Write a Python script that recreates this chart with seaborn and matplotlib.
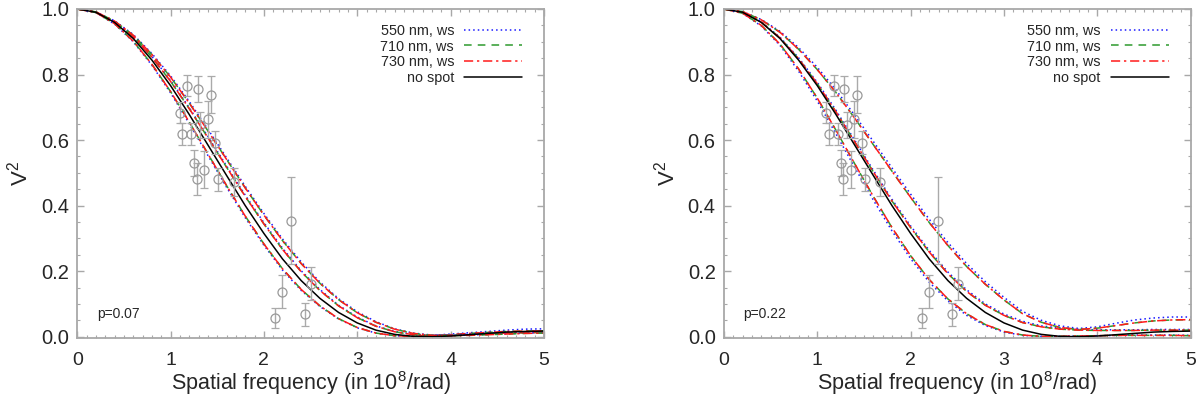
import numpy as np
import pandas as pd
import seaborn as sns
import matplotlib
matplotlib.use("Agg")
import matplotlib.pyplot as plt
from matplotlib.lines import Line2D
from matplotlib.ticker import MultipleLocator

# spatial frequency grid (in 10^8/rad)
freq = [0.0, 0.2, 0.4, 0.6, 0.8, 1.0, 1.2, 1.4, 1.6, 1.8, 2.0, 2.2, 2.4,
        2.6, 2.8, 3.0, 3.2, 3.4, 3.6, 3.8, 4.0, 4.2, 4.4, 4.6, 4.8, 5.0]

# no spot model (same in both panels)
v2_nospot = [1.000, 0.990, 0.959, 0.910, 0.844, 0.766, 0.678, 0.585, 0.492, 0.400, 0.315, 0.237, 0.171,
             0.117, 0.074, 0.042, 0.020, 0.007, 0.001, 0.000, 0.002, 0.006, 0.010, 0.014, 0.016, 0.017]

# p=0.07, three spot orientations; 710/730 nm nearly identical, 550 nm own list
p07_a = [1.000, 0.989, 0.955, 0.902, 0.831, 0.748, 0.655, 0.558, 0.461, 0.368, 0.283, 0.207, 0.144,
         0.094, 0.055, 0.028, 0.011, 0.003, 0.001, 0.003, 0.006, 0.010, 0.013, 0.016, 0.017, 0.018]
p07_a_550 = [1.000, 0.989, 0.954, 0.900, 0.828, 0.744, 0.650, 0.553, 0.456, 0.363, 0.279, 0.203, 0.141,
             0.092, 0.054, 0.027, 0.011, 0.003, 0.001, 0.004, 0.008, 0.012, 0.016, 0.020, 0.023, 0.024]
p07_b = [1.000, 0.991, 0.961, 0.915, 0.853, 0.779, 0.696, 0.607, 0.517, 0.428, 0.344, 0.266, 0.198,
         0.141, 0.094, 0.058, 0.032, 0.015, 0.006, 0.003, 0.004, 0.006, 0.009, 0.011, 0.012, 0.013]
p07_b_550 = [1.000, 0.991, 0.961, 0.916, 0.855, 0.782, 0.699, 0.611, 0.521, 0.432, 0.348, 0.270, 0.201,
             0.144, 0.096, 0.060, 0.033, 0.016, 0.007, 0.004, 0.005, 0.008, 0.011, 0.013, 0.015, 0.016]
p07_c = [1.000, 0.991, 0.963, 0.920, 0.861, 0.792, 0.713, 0.628, 0.541, 0.454, 0.371, 0.293, 0.223,
         0.163, 0.113, 0.073, 0.044, 0.023, 0.010, 0.004, 0.003, 0.004, 0.006, 0.008, 0.010, 0.011]
p07_c_550 = [1.000, 0.991, 0.964, 0.922, 0.864, 0.796, 0.718, 0.633, 0.546, 0.459, 0.376, 0.298, 0.228,
             0.167, 0.116, 0.076, 0.046, 0.024, 0.011, 0.005, 0.004, 0.005, 0.007, 0.009, 0.011, 0.012]

# p=0.22
p22_a = [1.000, 0.987, 0.950, 0.893, 0.817, 0.728, 0.630, 0.528, 0.428, 0.333, 0.247, 0.174, 0.115,
         0.070, 0.037, 0.016, 0.005, 0.001, 0.001, 0.002, 0.003, 0.004, 0.004, 0.004, 0.004, 0.003]
p22_a_550 = [1.000, 0.987, 0.948, 0.889, 0.810, 0.719, 0.619, 0.517, 0.417, 0.323, 0.238, 0.166, 0.109,
             0.065, 0.034, 0.014, 0.004, 0.001, 0.001, 0.002, 0.003, 0.004, 0.005, 0.005, 0.005, 0.004]
p22_b = [1.000, 0.990, 0.960, 0.912, 0.848, 0.772, 0.686, 0.595, 0.503, 0.414, 0.333, 0.258, 0.192,
         0.138, 0.096, 0.065, 0.043, 0.030, 0.023, 0.020, 0.019, 0.019, 0.019, 0.020, 0.020, 0.020]
p22_b_550 = [1.000, 0.990, 0.961, 0.914, 0.851, 0.776, 0.691, 0.600, 0.508, 0.419, 0.338, 0.263, 0.197,
             0.143, 0.100, 0.069, 0.047, 0.033, 0.026, 0.022, 0.021, 0.021, 0.021, 0.022, 0.022, 0.022]
p22_c = [1.000, 0.992, 0.967, 0.929, 0.877, 0.815, 0.745, 0.667, 0.586, 0.505, 0.425, 0.348, 0.278,
         0.214, 0.160, 0.112, 0.070, 0.044, 0.028, 0.022, 0.026, 0.034, 0.042, 0.048, 0.051, 0.052]
p22_c_550 = [1.000, 0.992, 0.968, 0.932, 0.882, 0.822, 0.753, 0.676, 0.596, 0.515, 0.435, 0.358, 0.287,
             0.223, 0.168, 0.120, 0.077, 0.050, 0.033, 0.025, 0.030, 0.041, 0.051, 0.057, 0.060, 0.060]

# observed squared visibilities
obs_freq = [1.096, 1.125, 1.178, 1.222, 1.255, 1.289, 1.280, 1.320, 1.363, 1.396,
            1.430, 1.474, 1.510, 1.676, 2.120, 2.196, 2.295, 2.443, 2.510]
obs_v2 = [0.684, 0.619, 0.766, 0.619, 0.530, 0.757, 0.481, 0.646, 0.510, 0.663,
          0.738, 0.592, 0.481, 0.472, 0.056, 0.137, 0.354, 0.068, 0.162]
obs_err = [0.033, 0.033, 0.032, 0.033, 0.040, 0.040, 0.048, 0.040, 0.056, 0.056,
           0.056, 0.035, 0.035, 0.042, 0.030, 0.050, 0.133, 0.034, 0.050]

panels = [
    ("p=0.07", [(p07_a, p07_a_550), (p07_b, p07_b_550), (p07_c, p07_c_550)]),
    ("p=0.22", [(p22_a, p22_a_550), (p22_b, p22_b_550), (p22_c, p22_c_550)]),
]

sns.set_style("ticks")
plt.rcParams['font.family'] = ['Liberation Sans', 'DejaVu Sans']
plt.rcParams['mathtext.fontset'] = 'custom'
plt.rcParams['mathtext.rm'] = 'Liberation Sans'
plt.rcParams['mathtext.default'] = 'regular'

BLUE = "#1a1aff"
GREEN = "#2e9a2e"
RED = "#ff1a1a"
AXCOL = "#a8a8a8"
ls_blue = (0, (1, 2))
ls_green = (0, (5, 4))
ls_red = (0, (6, 2.5, 1.5, 2.5))

fig = plt.figure(figsize=(12, 3.96), dpi=100)
axes = [fig.add_axes([0.0644, 0.1465, 0.3888, 0.8308]),
        fig.add_axes([0.6033, 0.1465, 0.3889, 0.8308])]

for ax, (ptxt, trios) in zip(axes, panels):
    for v_rg, v_b in trios:
        sns.lineplot(x=freq, y=v_b, ax=ax, color=BLUE, linestyle=ls_blue, linewidth=1.1)
        sns.lineplot(x=freq, y=v_rg, ax=ax, color=GREEN, linestyle=ls_green, linewidth=1.1)
        sns.lineplot(x=freq, y=v_rg, ax=ax, color=RED, linestyle=ls_red, linewidth=1.1)
    sns.lineplot(x=freq, y=v2_nospot, ax=ax, color="black", linewidth=1.1)

    ax.errorbar(obs_freq, obs_v2, yerr=obs_err, fmt='o', mfc='none', mec='#999999',
                ecolor='#aaaaaa', ms=6.5, mew=0.9, elinewidth=1.0, capsize=2.8, capthick=1.0)

    ax.set_xlim(0, 5)
    ax.set_ylim(-0.004, 1.0)
    ax.xaxis.set_major_locator(MultipleLocator(1))
    ax.xaxis.set_minor_locator(MultipleLocator(0.1))
    ax.yaxis.set_major_locator(MultipleLocator(0.2))
    ax.yaxis.set_minor_locator(MultipleLocator(0.05))
    ax.yaxis.set_major_formatter(plt.FuncFormatter(lambda v, p: f"{v:.1f}"))
    ax.tick_params(which='both', direction='in', top=True, right=True, color=AXCOL)
    ax.tick_params(axis='x', labelsize=14, pad=10)
    ax.tick_params(axis='y', labelsize=14.5, pad=6)
    ax.tick_params(which='major', length=5, width=1.0)
    ax.tick_params(which='minor', length=2.5, width=0.8)
    for s in ax.spines.values():
        s.set_color(AXCOL)
        s.set_linewidth(1.3)

    ax.set_xlabel("Spatial frequency (in 10$^{8}$/rad)", fontsize=15.5, labelpad=0)
    ax.set_ylabel("V$^{2}$", fontsize=16, labelpad=6)
    ax.text(0.042, 0.072, ptxt, transform=ax.transAxes, fontsize=10, va='center', ha='left')

    handles = [Line2D([], [], color=BLUE, linestyle=ls_blue, linewidth=1.1),
               Line2D([], [], color=GREEN, linestyle=ls_green, linewidth=1.1),
               Line2D([], [], color=RED, linestyle=ls_red, linewidth=1.1),
               Line2D([], [], color="black", linewidth=1.1)]
    labels = ["550 nm, ws", "710 nm, ws", "730 nm, ws", "no spot"]
    ax.legend(handles, labels, loc='upper right', bbox_to_anchor=(0.953, 0.955),
              frameon=False, markerfirst=False, fontsize=10.4, handlelength=4.0,
              handletextpad=0.7, labelspacing=0.12, borderpad=0, borderaxespad=0)

fig.savefig("out.png", dpi=100)
